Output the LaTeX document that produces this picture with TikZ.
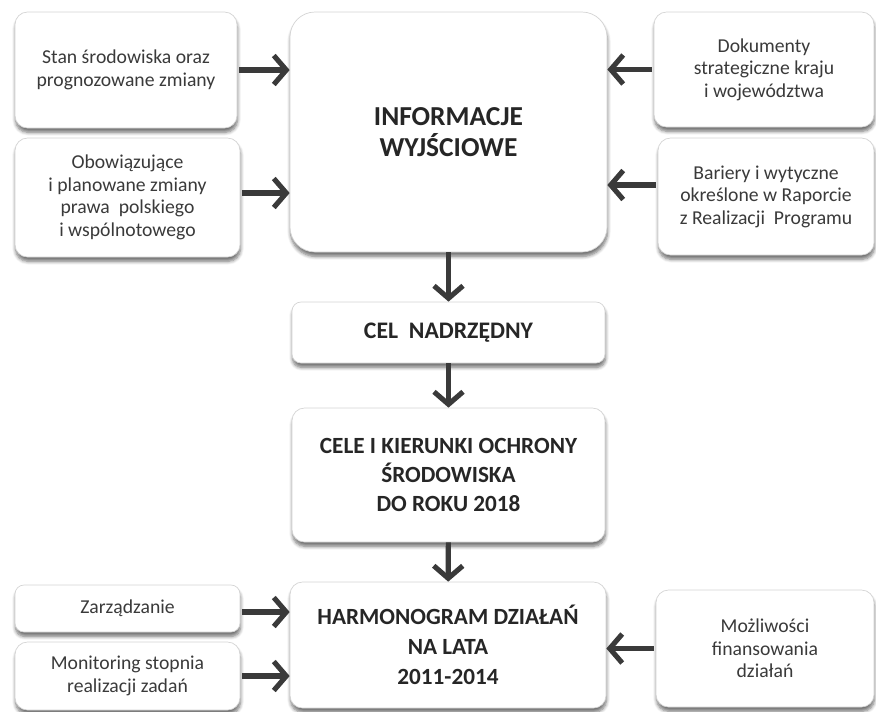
\documentclass[tikz,border=0pt]{standalone}
\usepackage{fontspec}
\setmainfont{Carlito}
\usetikzlibrary{arrows.meta,positioning,shadows.blur}
\definecolor{ink}{HTML}{3A3A3A}
\definecolor{rim}{HTML}{D4D4D4}

\begin{document}
\begin{tikzpicture}[
    box/.style={draw=rim,fill=white,rounded corners=.25cm,align=center,text=ink,
      blur shadow={shadow xshift=.3pt,shadow yshift=-2.5pt,shadow blur steps=6,shadow opacity=55},
      inner sep=2pt},
    txt/.style={font=\fontsize{11.2}{12.8}\selectfont},
    head/.style={font=\fontsize{13.2}{16.5}\selectfont\bfseries,text=black!85},
    arr/.style={draw=ink,line width=2.9pt,-{Straight Barb[length=2.5mm,width=5.8mm]}}]
  \useasboundingbox (0,0) rectangle (17.52,-14.22);

  \node[box,txt,minimum width=4.44cm,minimum height=2.32cm] (stan) at (2.52,-1.40) {Stan środowiska oraz\\prognozowane zmiany};
  \node[box,txt,minimum width=4.50cm,minimum height=2.38cm] (obow) at (2.55,-3.95) {Obowiązujące\\i planowane zmiany\\prawa \ polskiego\\i wspólnotowego};
  \node[box,head,font=\fontsize{15.6}{17.5}\selectfont\bfseries,rounded corners=.5cm,minimum width=6.34cm,minimum height=4.80cm] (info) at (8.97,-2.64) {INFORMACJE\\WYJŚCIOWE};
  \node[box,txt,minimum width=4.40cm,minimum height=2.30cm] (dok) at (15.28,-1.39) {Dokumenty\\strategiczne kraju\\i województwa};
  \node[box,txt,minimum width=4.32cm,minimum height=2.34cm] (bar) at (15.32,-3.93) {Bariery i wytyczne\\określone w Raporcie\\z Realizacji \ Programu};

  \node[box,head,font=\fontsize{13.5}{16.5}\selectfont\bfseries,rounded corners=.18cm,minimum width=6.26cm,minimum height=1.22cm] (cel) at (8.97,-6.65) {CEL \ NADRZĘDNY};
  \node[box,head,minimum width=6.26cm,minimum height=2.68cm] (cele) at (8.97,-9.50) {CELE I KIERUNKI OCHRONY\\ŚRODOWISKA\\DO ROKU 2018};
  \node[box,head,font=\fontsize{13.2}{17.2}\selectfont\bfseries,minimum width=6.32cm,minimum height=2.52cm] (harm) at (8.96,-12.90) {HARMONOGRAM DZIAŁAŃ\\NA LATA\\2011-2014};

  \node[box,txt,rounded corners=.18cm,minimum width=4.50cm,minimum height=0.94cm] (zarz) at (2.55,-12.17) {Zarządzanie};
  \node[box,txt,minimum width=4.50cm,minimum height=1.36cm] (mon) at (2.55,-13.52) {Monitoring stopnia\\realizacji zadań};
  \node[box,txt,minimum width=4.36cm,minimum height=2.34cm] (moz) at (15.30,-12.97) {Możliwości\\finansowania\\działań};

  \draw[arr] ([xshift=1pt]stan.east) -- (stan.east -| info.west);
  \draw[arr] ([xshift=1pt,yshift=.09cm]obow.east) -- ([yshift=.09cm]obow.east -| info.west);
  \draw[arr] ([xshift=-1pt]dok.west) -- (dok.west -| info.east);
  \draw[arr] ([xshift=-1pt,yshift=.23cm]bar.west) -- ([yshift=.23cm]bar.west -| info.east);
  \draw[arr] (info) -- (cel);
  \draw[arr] (cel) -- (cele);
  \draw[arr] (cele) -- (harm);
  \draw[arr] ([xshift=1pt,yshift=-.07cm]zarz.east) -- ([yshift=-.07cm]zarz.east -| harm.west);
  \draw[arr] ([xshift=1pt]mon.east) -- (mon.east -| harm.west);
  \draw[arr] ([xshift=-1pt]moz.west) -- (moz.west -| harm.east);
\end{tikzpicture}
\end{document}
